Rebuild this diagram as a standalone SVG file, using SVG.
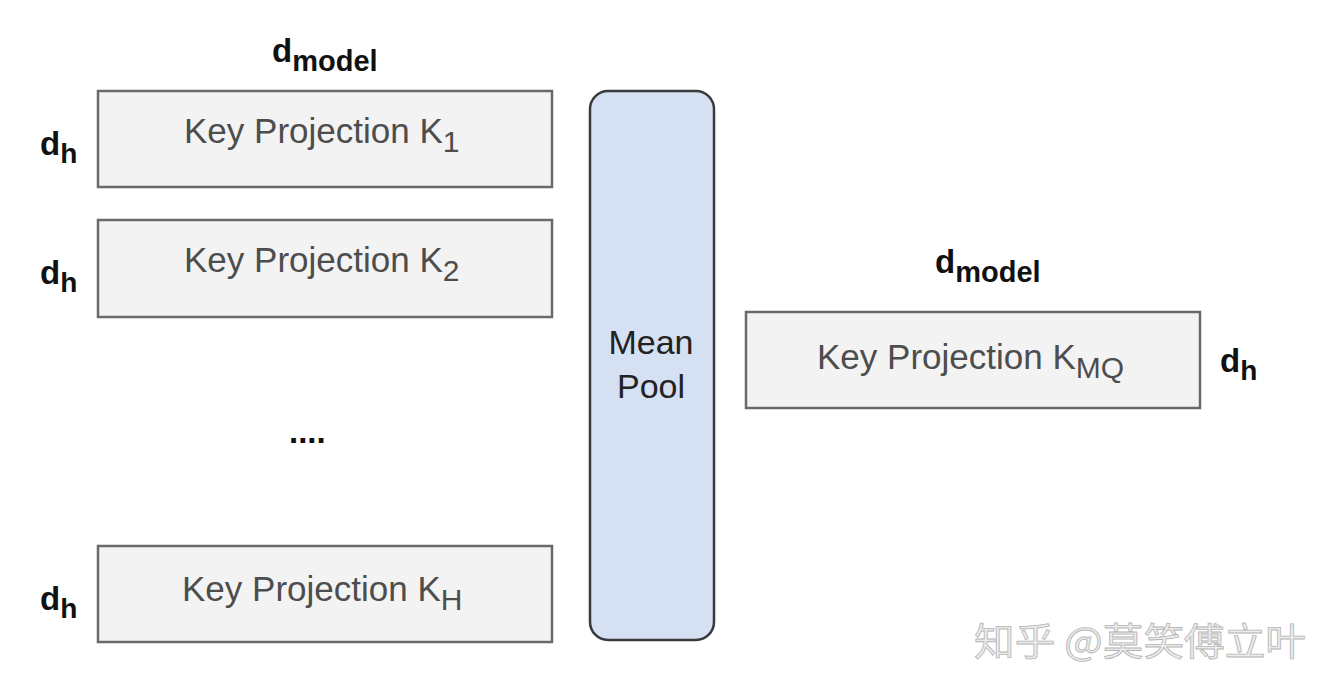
<svg xmlns="http://www.w3.org/2000/svg" width="1324" height="678" viewBox="0 0 1324 678">
<style>
.box{fill:#f3f3f3;stroke:#6a6a6a;stroke-width:2.5}
.pool{fill:#d5e1f3;stroke:#3a3a3a;stroke-width:2.5}
.lbl{font-family:"Liberation Sans",Arial,sans-serif;font-size:35px;fill:#4d4d4d}
.sub{font-size:30px}
.pl{font-family:"Liberation Sans",Arial,sans-serif;font-size:34px;fill:#222;text-anchor:middle}
.dim{font-family:"Liberation Sans",Arial,sans-serif;font-size:33px;font-weight:bold;fill:#111}
.sm{font-size:29px}
.sh{font-size:28px}
.wm{font-family:"Noto Sans CJK SC",sans-serif;font-size:38px;fill:#ececec;stroke:#b5b5b5;stroke-width:0.8}
</style>
<rect width="1324" height="678" fill="#fff"/>
<g id="k1">
<rect class="box" x="98" y="91" width="454" height="96"/>
<text class="lbl" x="184" y="143">Key Projection K<tspan class="sub" dy="9">1</tspan></text>
</g>
<g id="k2">
<rect class="box" x="98" y="220" width="454" height="97"/>
<text class="lbl" x="184" y="272">Key Projection K<tspan class="sub" dy="9">2</tspan></text>
</g>
<g id="kh">
<rect class="box" x="98" y="546" width="454" height="96"/>
<text class="lbl" x="182" y="601">Key Projection K<tspan class="sub" dy="9">H</tspan></text>
</g>
<g id="pool">
<rect class="pool" x="590" y="91" width="124" height="549" rx="18"/>
<text class="pl" x="651" y="354">Mean</text>
<text class="pl" x="651" y="398">Pool</text>
</g>
<g id="kmq">
<rect class="box" x="746" y="312" width="454" height="96"/>
<text class="lbl" x="817" y="369">Key Projection K<tspan class="sub" dy="9">MQ</tspan></text>
</g>
<g id="labels">
<text class="dim" x="272" y="62">d<tspan class="sm" dy="9">model</tspan></text>
<text class="dim" x="40" y="155">d<tspan class="sh" dy="8">h</tspan></text>
<text class="dim" x="40" y="284">d<tspan class="sh" dy="8">h</tspan></text>
<text class="dim" x="40" y="610">d<tspan class="sh" dy="8">h</tspan></text>
<text class="dim" x="935" y="273">d<tspan class="sm" dy="9">model</tspan></text>
<text class="dim" x="1220" y="372">d<tspan class="sh" dy="8">h</tspan></text>
<text class="dim" x="289" y="443">....</text>
</g>
<g id="connectors"></g>
<text class="wm" x="974" y="655" textLength="332" lengthAdjust="spacingAndGlyphs">知乎 @莫笑傅立叶</text>
</svg>
